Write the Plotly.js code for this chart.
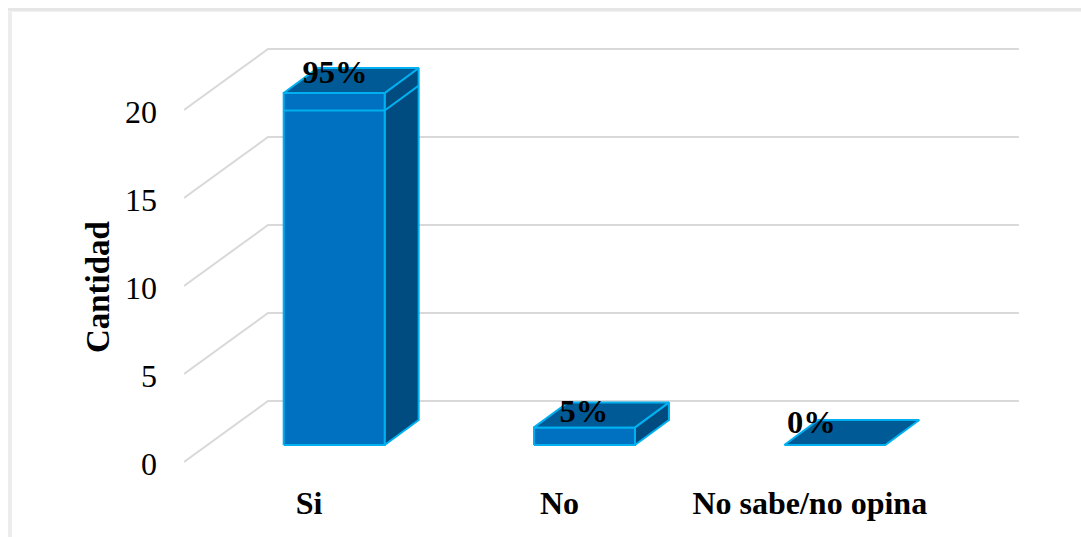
<!DOCTYPE html>
<html>
<head>
<meta charset="utf-8">
<script src="https://cdn.plot.ly/plotly-3.0.1.min.js"></script>
<style>html,body{margin:0;padding:0;background:#fff}#chart{width:1081px;height:537px}</style>
</head>
<body>
<div id="chart"></div>
<script>
// Responses per category; the first bar carries an extra stacked segment.
const categories = ['Si', 'No', 'No sabe/no opina'];
const cantidad = [19, 1, 0];
const extra = [1, 0, 0];
const etiquetas = ['95%', '5%', '0%'];
const yTicks = [0, 5, 10, 15, 20];

// Oblique projection of the wall and the boxes, in axis units.
const wallDx = 0.3356, wallDy = 3.47;
const boxDx = 0.1358, boxDy = 1.42;
const boxFrontX = 0.1, boxFrontY = 0.97;
const halfWidth = 0.2017;
// Where each percentage label sits relative to its category and box top.
const labelDx = [0.103, 0.098, 0.006];
const labelDy = [1.05, 0.78, 1.17];

const FRONT = '#0070c0', TOP = '#005a96', SIDE = '#004c80', EDGE = '#00b0f0', GRID = '#d9d9d9';
const serif = '"Liberation Serif", "Times New Roman", serif';

// Plot area in pixels, used for the frame drawn around the figure.
const plotL = 184, plotW = 835, plotT = 40, plotH = 440;
const fx = p => (p - plotL) / plotW;
const fy = p => (plotT + plotH - p) / plotH;

function poly(xs, ys, fill, line, w) {
  return {type: 'scatter', mode: 'lines', x: xs, y: ys, fill: fill ? 'toself' : 'none',
    fillcolor: fill || undefined, line: {color: line, width: w}, hoverinfo: 'skip', showlegend: false};
}

const traces = [];
// Back wall and floor guide lines at every tick value.
yTicks.forEach(v => {
  traces.push(poly([-0.5, -0.5 + wallDx, 2.5 + wallDx], [v, v + wallDy, v + wallDy], null, GRID, 2));
});

// Each box is built from its value with the same projection.
categories.forEach((c, i) => {
  const x0 = i - halfWidth + boxFrontX, x1 = i + halfWidth + boxFrontX;
  const base = boxFrontY;
  const mid = base + cantidad[i], top = mid + extra[i];
  if (top - base > 0) {
    traces.push(poly([x1, x1 + boxDx, x1 + boxDx, x1, x1], [base, base + boxDy, top + boxDy, top, base], SIDE, EDGE, 2));
    traces.push(poly([x0, x1, x1, x0, x0], [base, base, top, top, base], FRONT, EDGE, 2));
  }
  traces.push(poly([x0, x1, x1 + boxDx, x0 + boxDx, x0], [top, top, top + boxDy, top + boxDy, top], TOP, EDGE, 2));
  if (extra[i] > 0) {
    traces.push(poly([x0, x1, x1 + boxDx], [mid, mid, mid + boxDy], null, EDGE, 2));
  }
});

// Percentage labels sitting on the top face of each box.
traces.push({type: 'scatter', mode: 'text', x: categories.map((c, i) => i + labelDx[i]),
  y: cantidad.map((v, i) => boxFrontY + v + extra[i] + labelDy[i]), text: etiquetas, textposition: 'middle center',
  textfont: {family: serif, size: 32.5, color: '#000', weight: 700}, hoverinfo: 'skip', showlegend: false, cliponaxis: false});

const layout = {
  width: 1081, height: 537, showlegend: false,
  paper_bgcolor: '#fff', plot_bgcolor: 'rgba(0,0,0,0)',
  margin: {l: plotL, r: 1081 - plotL - plotW, t: plotT, b: 537 - plotT - plotH, autoexpand: false},
  font: {family: serif, color: '#000'},
  xaxis: {range: [-0.5, 2.836], tickmode: 'array', tickvals: [0, 1, 2], ticktext: categories,
    showgrid: false, zeroline: false, showline: false, ticks: '', ticklabelstandoff: 1,
    tickfont: {family: serif, size: 32, weight: 700, color: '#000'}},
  yaxis: {range: [-1.02, 23.98], tickmode: 'array', tickvals: yTicks,
    showgrid: false, zeroline: false, showline: false, ticks: '', ticklabelstandoff: 26, ticklabelshift: 2,
    tickfont: {family: serif, size: 32, color: '#000'}},
  annotations: [{text: '<b>Cantidad</b>', textangle: -90, xref: 'paper', yref: 'y', x: fx(98), y: 9.94,
    showarrow: false, xanchor: 'center', yanchor: 'middle', font: {family: serif, size: 33, color: '#000'}}],
  shapes: [
    {type: 'rect', xref: 'paper', yref: 'paper', layer: 'below', line: {width: 0}, fillcolor: '#ececec',
     x0: fx(8), x1: fx(12), y0: fy(537), y1: fy(8)},
    {type: 'rect', xref: 'paper', yref: 'paper', layer: 'below', line: {width: 0}, fillcolor: '#e6e6e6',
     x0: fx(8), x1: fx(1081), y0: fy(11), y1: fy(8)},
    {type: 'rect', xref: 'paper', yref: 'paper', layer: 'below', line: {width: 0}, fillcolor: '#f2f2f2',
     x0: fx(8), x1: fx(1081), y0: fy(12), y1: fy(11)}
  ]
};

Plotly.newPlot('chart', traces, layout, {displayModeBar: false, staticPlot: true});
</script>
</body>
</html>
